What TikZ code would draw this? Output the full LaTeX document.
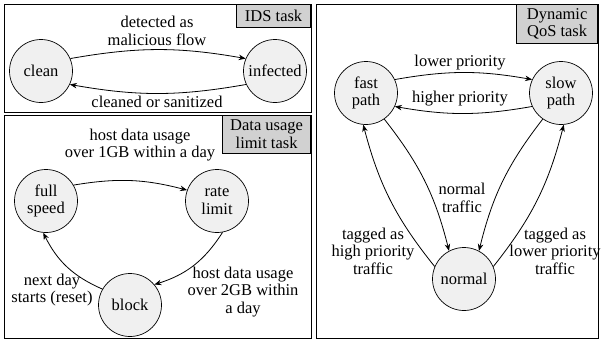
\documentclass[tikz,border=0pt]{standalone}
\usepackage{fontspec}
\setmainfont{Liberation Serif}
\usetikzlibrary{arrows.meta}
\begin{document}
\begin{tikzpicture}[x=1pt,y=-1pt,
  state/.style={circle,draw,fill=black!6,minimum size=63pt,inner sep=0pt,align=center,line width=0.7pt,font=\fontsize{16.5}{17.5}\selectfont},
  lbl/.style={align=center,inner sep=0pt,font=\fontsize{16.5}{17.5}\selectfont},
  panel/.style={draw,line width=0.8pt},
  tagbox/.style={draw,fill=black!18,line width=0.8pt,align=center,inner sep=1pt,anchor=north east,font=\fontsize{16.5}{17.5}\selectfont},
  arr/.style={-{Stealth[length=7pt,width=5.5pt]},line width=0.8pt}]
\useasboundingbox (0,0) rectangle (601,341);
% panels
\draw[panel] (4,4) rectangle (311,112);
\draw[panel] (4,115) rectangle (311,338);
\draw[panel] (316,4) rectangle (598,338);
\node[tagbox,minimum width=74pt,minimum height=23pt] (idsbox) at (311,4) {IDS task};
\node[tagbox,minimum width=88pt,minimum height=38pt] (databox) at (311,115) {Data usage\\limit task};
\node[tagbox,minimum width=81pt,minimum height=39pt] (qosbox) at (598,4) {Dynamic\\QoS task};
% IDS
\node[state] (clean) at (41,71) {clean};
\node[state] (infected) at (275,71) {infected};
\draw[arr] (clean.23) to[bend left=10] (infected.157);
\draw[arr] (infected.-155) to[bend left=10] (clean.-25);
\node[lbl] (l1) at (157,31) {detected as\\malicious flow};
\node[lbl] (l2) at (157,102) {cleaned or sanitized};
% Data usage
\node[state] (full) at (46,201) {full\\speed};
\node[state] (rate) at (217,201) {rate\\limit};
\node[state] (block) at (130,305) {block};
\draw[arr] (full.30) to[bend left=12] (rate.160);
\draw[arr] (rate.-80) to[bend left=20] (block.40);
\draw[arr] (block.150) to[bend left=20] (full.-95);
\node[lbl] (l3) at (140,145) {host data usage\\over 1GB within a day};
\node[lbl] (l4) at (243,292) {host data usage\\over 2GB within\\a day};
\node[lbl] (l5) at (52,290) {next day\\starts (reset)};
% QoS
\node[state] (fast) at (366,93) {fast\\path};
\node[state] (slow) at (561,93) {slow\\path};
\node[state] (normal) at (464,279) {normal};
\draw[arr] (fast.25) to[bend left=10] (slow.155);
\draw[arr] (slow.-155) to[bend left=10] (fast.-25);
\draw[arr] (fast.-55) to[bend left=12] (normal.118);
\draw[arr] (normal.157) to[bend left=12] (fast.-95);
\draw[arr] (slow.-125) to[bend right=12] (normal.62);
\draw[arr] (normal.23) to[bend right=12] (slow.-85);
\node[lbl] (l6) at (460,63) {lower priority};
\node[lbl] (l7) at (460,99) {higher priority};
\node[lbl] (l8) at (462,198) {normal\\traffic};
\node[lbl] (l9) at (373,251) {tagged as\\high priority\\traffic};
\node[lbl] (l10) at (555,251) {tagged as\\lower priority\\traffic};
\end{tikzpicture}
\end{document}
